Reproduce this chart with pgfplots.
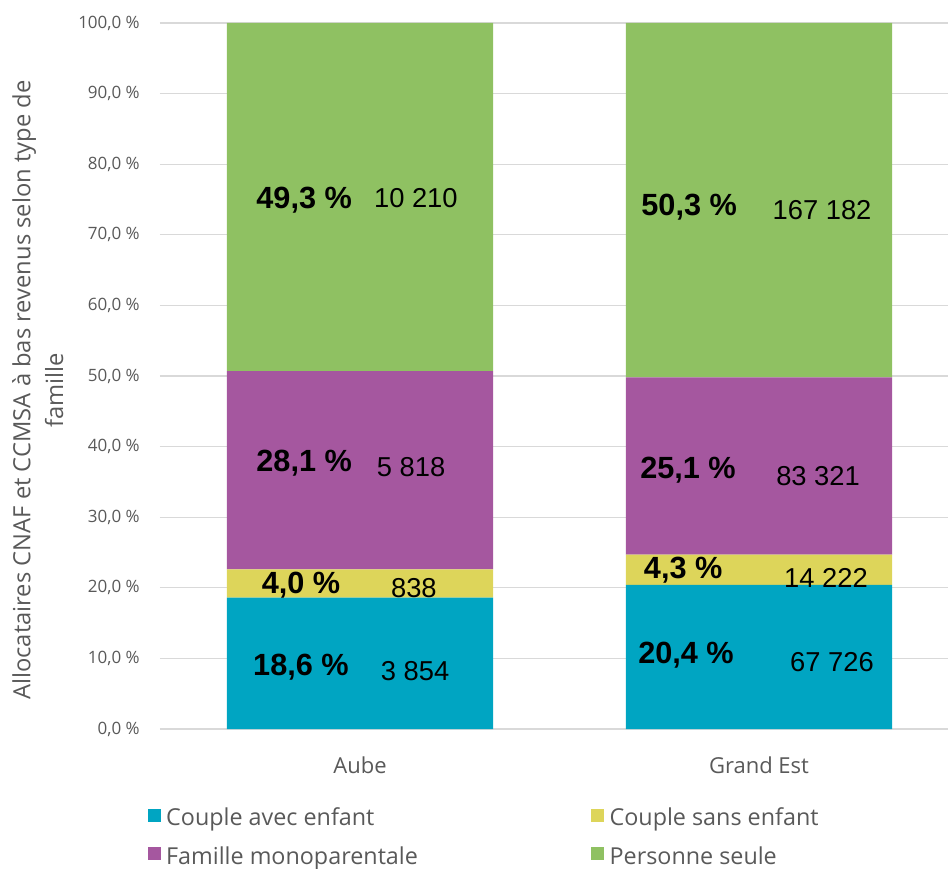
\documentclass[border=0pt]{standalone}
\usepackage{fontspec}
\setmainfont{Open Sans}
\newfontfamily\arial{Liberation Sans}
\usepackage{pgfplots}
\pgfplotsset{compat=1.18}

\definecolor{cav}{HTML}{00A5C2}
\definecolor{csa}{HTML}{DDD55A}
\definecolor{fmo}{HTML}{A5579F}
\definecolor{pse}{HTML}{8FC162}
\definecolor{txt}{HTML}{595959}
\definecolor{gridc}{HTML}{D9D9D9}

\newcommand{\pct}[1]{{\arial\bfseries\fontsize{23}{26}\selectfont #1}}
\newcommand{\cnt}[1]{{\arial\fontsize{20.5}{24}\selectfont #1}}

\begin{document}
\begin{tikzpicture}
\begin{axis}[
  scale only axis, width=591pt, height=529.5pt,
  ybar stacked, bar width=0.667,
  xmin=-0.5013, xmax=1.4737, ymin=0, ymax=100,
  xtick={0,1}, xticklabels={Aube, Grand Est},
  ytick={0,10,...,100},
  yticklabels={{0,0 \%},{10,0 \%},{20,0 \%},{30,0 \%},{40,0 \%},{50,0 \%},{60,0 \%},{70,0 \%},{80,0 \%},{90,0 \%},{100,0 \%}},
  axis line style={draw=none}, major tick length=0pt,
  ymajorgrids, grid style={color=gridc, line width=0.8pt},
  tick label style={color=txt},
  yticklabel style={font=\fontsize{12.75}{15}\selectfont, anchor=east, inner sep=0pt, xshift=-15pt},
  xticklabel style={font=\fontsize{16.5}{20}\selectfont, anchor=center, inner sep=0pt, yshift=-27.5pt},
  ylabel={Allocataires CNAF et CCMSA à bas revenus selon type de\\famille},
  ylabel style={at={(axis description cs:-0.155,0.48)}, anchor=center, align=center,
    color=txt, font=\fontsize{17.8}{24.5}\selectfont},
  legend columns=2, legend cell align=left,
  legend image code/.code={\fill[#1] (0pt,-3pt) rectangle (9.75pt,6.75pt);},
  legend style={at={(rel axis cs:-0.0208,-0.104)}, anchor=north west,
    draw=none, fill=none, text=txt, font=\fontsize{17.5}{21}\selectfont,
    row sep=10pt,
    /tikz/every odd column/.append style={column sep=2pt},
    /tikz/every even column/.append style={column sep=128pt}},
]
\addplot[fill=cav, draw=none] coordinates {(0,18.6) (1,20.4)};
\addlegendentry{Couple avec enfant}
\addplot[fill=csa, draw=none] coordinates {(0,4.0) (1,4.3)};
\addlegendentry{Couple sans enfant}
\addplot[fill=fmo, draw=none] coordinates {(0,28.1) (1,25.1)};
\addlegendentry{Famille monoparentale}
\addplot[fill=pse, draw=none] coordinates {(0,49.3) (1,50.2)};
\addlegendentry{Personne seule}

\coordinate (a1) at (axis cs:-0.140,74.9);
\coordinate (a2) at (axis cs:0.140,75.2);
\coordinate (a3) at (axis cs:-0.140,37.7);
\coordinate (a4) at (axis cs:0.128,37.1);
\coordinate (a5) at (axis cs:-0.148,20.4);
\coordinate (a6) at (axis cs:0.135,20.0);
\coordinate (a7) at (axis cs:-0.148,8.8);
\coordinate (a8) at (axis cs:0.138,8.2);
\coordinate (g1) at (axis cs:0.825,73.9);
\coordinate (g2) at (axis cs:1.158,73.5);
\coordinate (g3) at (axis cs:0.822,36.7);
\coordinate (g4) at (axis cs:1.148,35.8);
\coordinate (g5) at (axis cs:0.810,22.5);
\coordinate (g6) at (axis cs:1.168,21.4);
\coordinate (g7) at (axis cs:0.817,10.5);
\coordinate (g8) at (axis cs:1.183,9.5);
\end{axis}
\node at (a1) {\pct{49,3 \%}};
\node at (a2) {\cnt{10 210}};
\node at (a3) {\pct{28,1 \%}};
\node at (a4) {\cnt{5 818}};
\node at (a5) {\pct{4,0 \%}};
\node at (a6) {\cnt{838}};
\node at (a7) {\pct{18,6 \%}};
\node at (a8) {\cnt{3 854}};
\node at (g1) {\pct{50,3 \%}};
\node at (g2) {\cnt{167 182}};
\node at (g3) {\pct{25,1 \%}};
\node at (g4) {\cnt{83 321}};
\node at (g5) {\pct{4,3 \%}};
\node at (g6) {\cnt{14 222}};
\node at (g7) {\pct{20,4 \%}};
\node at (g8) {\cnt{67 726}};
\pgfresetboundingbox
\path[use as bounding box] (-120pt,-104.25pt) rectangle (591pt,546.75pt);
\end{tikzpicture}
\end{document}
